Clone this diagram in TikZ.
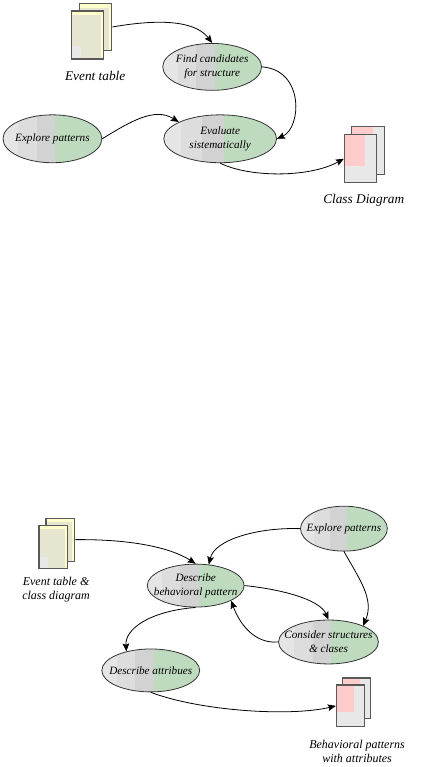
\documentclass[tikz,border=0pt]{standalone}
\usepackage{fontspec}
\setmainfont{Liberation Serif}
\usetikzlibrary{positioning, calc, shapes.geometric, arrows.meta}
\definecolor{bandA}{RGB}{229, 229, 229}
\definecolor{bandB}{RGB}{221, 221, 221}
\definecolor{bandC}{RGB}{210, 210, 210}
\definecolor{bandD}{RGB}{191, 219, 191}
\definecolor{sheetYellow}{RGB}{255, 255, 204}
\definecolor{sheetKhaki}{RGB}{230, 230, 208}
\definecolor{sheetGrey}{RGB}{232, 232, 232}
\definecolor{sheetPink}{RGB}{255, 204, 204}
\newcommand{\ppb}{path picture bounding box}
\newcommand{\sheetpatch}[5]{\fill[#1]
  ($($(\ppb.north west)!#2!(\ppb.north east)$)!#3!($(\ppb.south west)!#2!(\ppb.south east)$)$) rectangle
  ($($(\ppb.north west)!#4!(\ppb.north east)$)!#5!($(\ppb.south west)!#4!(\ppb.south east)$)$);}

\begin{document}
\begin{tikzpicture}[
    x=0.75pt, y=-0.75pt,
    node distance=5pt,
    task/.style 2 args={ellipse, draw=black!80, line width=0.6pt,
                  inner xsep=-10pt, inner ysep=-4pt,
                  minimum width=#1*0.75pt, minimum height=#2*0.75pt, align=center,
                  font=\itshape\fontsize{8.4pt}{10.5pt}\selectfont,
                  path picture={
                    \sheetpatch{bandA}{0}{0}{0.15}{1}
                    \sheetpatch{bandB}{0.15}{0}{0.34}{1}
                    \sheetpatch{bandC}{0.34}{0}{0.53}{1}
                    \sheetpatch{bandD}{0.53}{0}{1}{1}}},
    sheet/.style 2 args={rectangle, draw=black!65, line width=0.9pt, inner sep=0pt,
                  minimum width=#1*0.75pt, minimum height=#2*0.75pt},
    yellowback/.style={fill=sheetYellow, path picture={\sheetpatch{sheetKhaki}{0}{0.1}{0.9}{1}}},
    yellowfront/.style={fill=sheetYellow, path picture={
                    \sheetpatch{sheetKhaki}{0}{0.09}{0.91}{1}
                    \sheetpatch{sheetGrey}{0}{0.73}{0.3}{1}}},
    pinkback/.style={fill=sheetGrey, path picture={\sheetpatch{sheetPink}{0}{0}{0.64}{0.17}}},
    pinkfront/.style={fill=sheetGrey, path picture={\sheetpatch{sheetPink}{0}{0}{0.64}{0.65}}},
    caption/.style={align=center, font=\itshape\fontsize{9pt}{10.5pt}\selectfont},
    bigcaption/.style={caption, font=\itshape\fontsize{10pt}{12pt}\selectfont},
    flow/.style={-{Stealth[length=6pt, width=5pt, inset=1pt]}, line width=0.6pt, black},
  ]
    % upper diagram
    \node[sheet={32.5}{47}, yellowback] (tableback) at (95.8,27) {};
    \node[sheet={32}{48}, yellowfront] (tablefront) at (88,35) {};
    \node[bigcaption, below=5pt of tablefront, xshift=5.5pt] (tablecap) {Event table};

    \node[task={99}{47}] (find) at (212.5,67) {Find candidates\\for structure};
    \node[task={99}{48}] (exploreA) at (52.5,139) {Explore patterns};
    \node[task={113}{48}] (evaluate) at (220.5,139) {Evaluate\\sistematically};

    \node[sheet={33}{48}, pinkback] (classback) at (368.5,151) {};
    \node[sheet={32}{48}, pinkfront] (classfront) at (361,159) {};
    \node[bigcaption, below=5pt of classfront, xshift=2.5pt] (classcap) {Class Diagram};

    \draw[flow] (tableback.east) .. controls (170,17) and (198,24) .. (find.north);
    \draw[flow] (find.east) .. controls (305,70) and (302,128) .. (evaluate.east);
    \draw[flow] (exploreA.east) .. controls (130,122) and (155,107) .. (evaluate.158);
    \draw[flow] (evaluate.south) .. controls (250,178) and (310,178) .. (classfront.west);

    % lower diagram
    \node[sheet={29}{43}, yellowback] (eventback) at (60.5,540.5) {};
    \node[sheet={29}{43}, yellowfront] (eventfront) at (53.5,547.5) {};
    \node[caption, below=3pt of eventfront, xshift=2pt] (eventcap) {Event table \&\\class diagram};

    \node[task={87}{45}] (exploreB) at (344.5,529.5) {Explore patterns};
    \node[task={97}{43}] (describe) at (196,586.5) {Describe\\behavioral pattern};
    \node[task={100}{44}] (consider) at (329,643) {Consider structures\\\& clases};
    \node[task={98}{43}] (attrib) at (151,671.5) {Describe attribues};

    \node[sheet={28}{41}, pinkback] (behavback) at (357,699.5) {};
    \node[sheet={28}{42}, pinkfront] (behavfront) at (351,707) {};
    \node[caption, below=6pt of behavfront, xshift=5pt] (behavcap) {Behavioral patterns\\with attributes};

    \draw[flow] (eventback.east) .. controls (130,540) and (170,548) .. (describe.north);
    \draw[flow] (exploreB.west) .. controls (260,528) and (215,540) .. (describe.58);
    \draw[flow] (exploreB.south) .. controls (360,580) and (375,600) .. (consider.25);
    \draw[flow] (describe.east) .. controls (280,590) and (320,600) .. (consider.north);
    \draw[flow] (consider.west) .. controls (255,645) and (240,625) .. (describe.-23);
    \draw[flow] (describe.south) .. controls (150,612) and (125,630) .. (attrib.142);
    \draw[flow] (attrib.south) .. controls (200,712) and (290,718) .. (behavfront.west);

    \useasboundingbox (0,0) rectangle (421,767);
  \end{tikzpicture}
\end{document}
